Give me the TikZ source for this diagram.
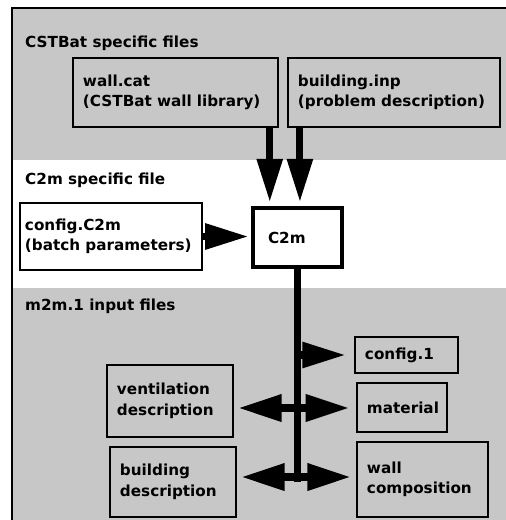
\documentclass[tikz,border=0pt]{standalone}
\usepackage{fontspec}
\setmainfont{DejaVu Sans}
\usetikzlibrary{arrows.meta,calc}

\begin{document}
\begin{tikzpicture}[x=0.03cm, y=-0.03cm,
  font=\fontsize{13}{17.5}\selectfont\bfseries,
  box/.style={draw, line width=2.4pt, align=left, inner xsep=0.3cm},
  flow/.style={line width=6pt, -{Triangle[length=1.3cm,width=0.74cm]}, shorten >=0.12cm},
  twoway/.style={line width=6pt, {Triangle[length=1.3cm,width=0.78cm]}-{Triangle[length=1.3cm,width=0.78cm]}},
  band/.style={anchor=base west, inner sep=0pt}]
\useasboundingbox (0,0) rectangle (506,520);
% shaded bands and frame
\fill[black!22] (12,8) rectangle (506,160);
\fill[black!22] (12,288) rectangle (506,520);
\draw[line width=1.5pt] (12,520) -- (12,8) -- (506,8);
\node[band] (cstbat) at (25,47) {CSTBat specific files};
\node[band] (c2mfile) at (25,184) {C2m specific file};
\node[band] (m2minput) at (25,310) {m2m.1 input files};
% files
\node[box, text width=5.55cm, minimum height=2.07cm] (wallcat) at (175.5,92.5) {wall.cat\\(CSTBat wall library)};
\node[box, text width=5.76cm, minimum height=2.07cm] (bldinp) at (394,92.5) {building.inp\\(problem description)};
\node[box, line width=1.4pt, inner xsep=0.15cm, text width=5.16cm, minimum height=2.01cm] (cfgC2m) at (111,236.5) {config.C2m\\(batch parameters)};
\node[box, line width=3.2pt, inner xsep=0.45cm, text width=1.77cm, minimum height=1.77cm] (c2m) at (297.5,237.5) {C2m};
\node[box, text width=2.49cm, minimum height=1.08cm] (cfg1) at (406.5,355) {config.1};
\node[box, text width=2.1cm, minimum height=1.47cm] (material) at (402,407.5) {material};
\node[box, text width=3.33cm, minimum height=2.25cm] (wallcomp) at (422.5,479.5) {wall\\composition};
\node[box, text width=3.18cm, minimum height=2.16cm] (vent) at (170,401) {ventilation\\description};
\node[box, text width=3.18cm, minimum height=2.1cm] (bldg) at (173,482) {building\\description};
% connectors
\draw[flow] ([xshift=-0.29cm]wallcat.south east) -- ([xshift=-0.29cm]wallcat.south east |- c2m.north);
\draw[flow] ([xshift=0.4cm]bldinp.south west) -- ([xshift=0.4cm]bldinp.south west |- c2m.north);
\draw[flow, shorten >=0.08cm] (cfgC2m.east) -- (cfgC2m.east -| c2m.west);
\draw[line width=6pt] (c2m.south) -- (c2m.south |- bldg.center);
\coordinate (mid) at (297.5,408);
\coordinate (low) at (297.5,477);
\draw[flow, shorten >=0.24cm] (c2m.south |- cfg1.west) -- (cfg1.west);
\draw[twoway, shorten <=0.12cm, shorten >=0.2cm] (vent.east |- mid) -- (material.west |- mid);
\draw[twoway, shorten <=0.12cm, shorten >=0.15cm] (bldg.east |- low) -- (wallcomp.west |- low);
\end{tikzpicture}
\end{document}
